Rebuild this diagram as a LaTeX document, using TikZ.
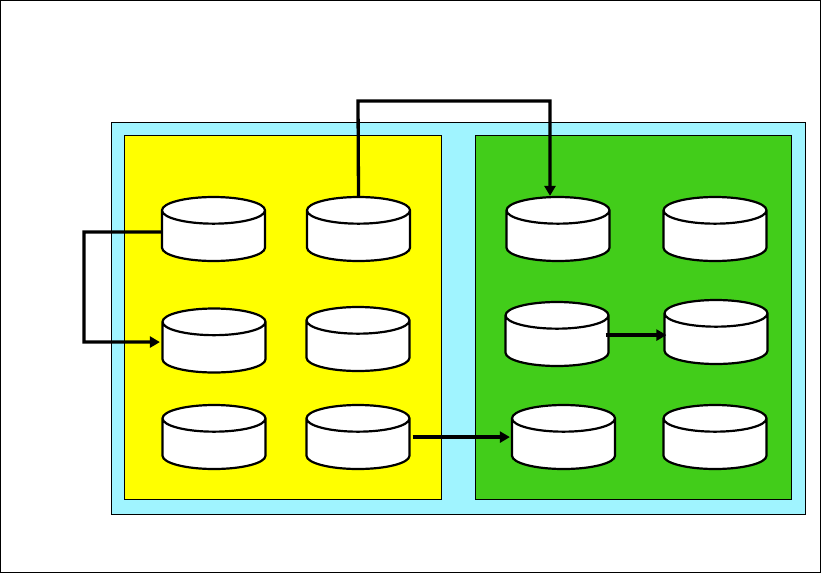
\documentclass[tikz,border=0pt]{standalone}
\usepackage{tikz}
\usetikzlibrary{shapes.geometric, arrows.meta, positioning, calc}
\definecolor{poolcyan}{RGB}{160, 244, 255}
\definecolor{sitegreen}{RGB}{66, 205, 26}
\definecolor{siteyellow}{RGB}{255, 255, 0}
\begin{document}
\begin{tikzpicture}[
  x=1pt, y=-1pt,
  zone/.style={draw=black, line width=1pt, rectangle, inner sep=0pt, outer sep=0pt},
  dbcyl/.style={draw=black, fill=white, line width=2.2pt, cylinder, shape border rotate=90, aspect=4, minimum width=103pt, minimum height=64pt, anchor=shape center},
  moveline/.style={draw=black, line width=3.3pt, -{Triangle[length=10pt, width=11pt]}}
]
  \useasboundingbox (0, 0) rectangle (821, 573);
  \node[zone, minimum width=820pt, minimum height=572pt] (frame) at (410.5, 286.5) {};
  \node[zone, fill=poolcyan, minimum width=694pt, minimum height=392pt] (pool) at (458, 318) {};
  \node[zone, fill=siteyellow, minimum width=317pt, minimum height=364pt] (left) at (282.5, 317) {};
  \node[zone, fill=sitegreen, minimum width=316pt, minimum height=364pt] (right) at (633, 317) {};

  \node[dbcyl] (la) at (213.5, 229) {};
  \node[dbcyl] (lb) at (358.5, 229) {};
  \node[dbcyl] (lc) at (214, 340.5) {};
  \node[dbcyl] (ld) at (358, 339) {};
  \node[dbcyl] (le) at (214, 437) {};
  \node[dbcyl] (lf) at (358, 437) {};

  \node[dbcyl] (ra) at (558, 229) {};
  \node[dbcyl] (rb) at (715, 229) {};
  \node[dbcyl] (rc) at (557, 334) {};
  \node[dbcyl] (rd) at (716, 332) {};
  \node[dbcyl] (re) at (563.5, 437) {};
  \node[dbcyl] (rf) at (715, 437) {};

  \coordinate (bendA) at (84, 232);
  \coordinate (bendB) at (84, 342);
  \coordinate (bendC) at (358, 101);
  \coordinate (bendD) at (550, 101);

  \draw[moveline] ([yshift=6.5pt]la.west) -- (bendA) -- (bendB) -- ([yshift=8pt, xshift=-1.5pt]lc.west);
  \draw[moveline] (lb.north) -- (bendC) -- (bendD) -- (bendD |- ra.north);
  \draw[moveline] ([yshift=8.5pt, xshift=-4pt]rc.east) -- ([yshift=6.5pt, xshift=3pt]rd.west);
  \draw[moveline] ([yshift=9.5pt, xshift=2pt]lf.east) -- ([yshift=9.5pt, xshift=-1pt]re.west);
\end{tikzpicture}
\end{document}
